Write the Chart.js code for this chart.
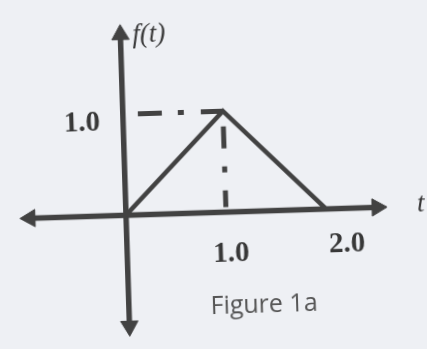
<!DOCTYPE html>
<html>
<head>
<meta charset="utf-8">
<script src="https://cdn.jsdelivr.net/npm/chart.js@4"></script>
<style>
  html, body { margin: 0; padding: 0; background: #eef0f4; overflow: hidden; }
  #wrap { width: 427px; height: 349px; overflow: hidden; }
  #figura { transform: rotate(-1.8deg); transform-origin: 50% 50%; }
</style>
</head>
<body>
<div id="wrap"><canvas id="figura" width="427" height="349"></canvas></div>
<script>
// datos de la funcion triangular
var tValues = [0, 1, 2];
var fValues = [0, 1, 0];

// extremos de los ejes (centro de las flechas)
var tAxisEnds = [-0.96, 2.51];
var fAxisEnds = [-1.10, 1.79];

// lineas guia punto-raya
var guideT = [0.15, 1];
var guideLevel = 1;
var guideF = [0.85, 0.05];

// etiquetas
var tTickValues = [1, 2];
var tTickLabels = ['1.0', '2.0'];
var fTickValues = [1];
var fTickLabels = ['1.0'];
var fLabel = 'f(t)';
var tLabel = 't';
var caption = 'Figure 1a';

var tinta = '#424242';

var puntos = tValues.map(function(t, i) { return {x: t, y: fValues[i]}; });

// textos dibujados encima
var textos = {
  id: 'textos',
  afterDraw: function(chart) {
    var ctx = chart.ctx;
    var xs = chart.scales.x, ys = chart.scales.y;
    var x0 = xs.getPixelForValue(0), y0 = ys.getPixelForValue(0);
    ctx.save();
    ctx.fillStyle = '#383838';
    ctx.font = 'bold 29px "Liberation Serif"';
    ctx.textAlign = 'center';
    ctx.textBaseline = 'alphabetic';
    var dx = [4, 20], dy = [50, 44];
    tTickValues.forEach(function(v, i) {
      ctx.fillText(tTickLabels[i], xs.getPixelForValue(v) + dx[i], y0 + dy[i]);
    });
    ctx.textAlign = 'right';
    fTickValues.forEach(function(v, i) {
      ctx.fillText(fTickLabels[i], x0 - 23, ys.getPixelForValue(v) + 15);
    });
    ctx.font = 'italic 27px "Liberation Serif"';
    ctx.textAlign = 'left';
    ctx.fillText(fLabel, x0 + 12, 40);
    ctx.fillText(tLabel, xs.getPixelForValue(tAxisEnds[1]) + 40, y0 + 6);
    ctx.fillStyle = '#555';
    ctx.font = '25px "Open Sans"';
    ctx.textAlign = 'center';
    ctx.fillText(caption, 260, 314);
    ctx.restore();
  }
};

var ctx = document.getElementById('figura').getContext('2d');
var figura = new Chart(ctx, {
  type: 'scatter',
  data: {
    datasets: [{
      label: 'f(t)',
      data: puntos,
      showLine: true,
      borderColor: tinta,
      borderWidth: 4.5,
      pointRadius: 0
    }, {
      label: 'guia horizontal',
      data: guideT.map(function(t) { return {x: t, y: guideLevel}; }),
      showLine: true,
      borderColor: tinta,
      borderWidth: 5,
      borderDash: [24, 16, 6, 17],
      borderCapStyle: 'butt',
      pointRadius: 0
    }, {
      label: 'guia vertical',
      data: guideF.map(function(f) { return {x: tValues[1], y: f}; }),
      showLine: true,
      borderColor: tinta,
      borderWidth: 5,
      borderDash: [22, 18, 6, 18],
      borderCapStyle: 'butt',
      pointRadius: 0
    }, {
      label: 'eje t',
      data: tAxisEnds.map(function(t) { return {x: t, y: 0}; }),
      showLine: true,
      borderColor: tinta,
      borderWidth: 5.5,
      pointStyle: 'triangle',
      pointRadius: 10,
      pointRotation: [270, 90],
      pointBackgroundColor: tinta,
      pointBorderColor: tinta,
      pointBorderWidth: 1
    }, {
      label: 'eje f',
      data: fAxisEnds.map(function(f) { return {x: 0, y: f}; }),
      showLine: true,
      borderColor: tinta,
      borderWidth: 5.5,
      pointStyle: 'triangle',
      pointRadius: 10,
      pointRotation: [180, 0],
      pointBackgroundColor: tinta,
      pointBorderColor: tinta,
      pointBorderWidth: 1
    }]
  },
  options: {
    responsive: false,
    animation: false,
    layout: { padding: 0 },
    plugins: { legend: { display: false }, tooltip: { enabled: false } },
    scales: {
      x: { type: 'linear', min: -1.137, max: 2.910, display: false },
      y: { type: 'linear', min: -1.244, max: 1.996, display: false }
    }
  },
  plugins: [textos]
});
</script>
</body>
</html>
